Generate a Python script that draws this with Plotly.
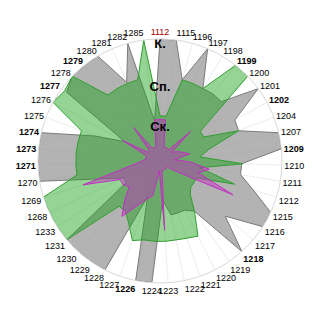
import plotly.graph_objects as go

categories = ["1112","1115","1196","1197","1198","1199","1200","1201","1202","1204",
              "1207","1209","1210","1211","1212","1215","1216","1217","1218","1219",
              "1220","1221","1222","1223","1224","1226","1227","1228","1229","1230",
              "1231","1233","1268","1269","1270","1271","1273","1274","1275","1276",
              "1277","1278","1279","1280","1281","1282","1285"]
bold_labels = ["1199","1202","1209","1218","1226","1271","1273","1274","1277","1279"]
red_labels = ["1112"]

gray_values = [100,100,69,100,69,70,70,100,70,69,
               100,100,67,67,80,100,100,70,100,50,
               45,45,45,32,100,100,31,100,100,100,
               100,33,33,49,100,100,100,100,57,33,
               95,100,100,100,70,100,33]
green_values = [37,37,69,69,69,100,100,41,41,69,
                41,33,68,33,64,33,33,33,37,50,
                69,67,66,66,66,66,69,57,50,50,
                100,100,100,100,69,69,69,69,69,100,
                97,100,69,69,69,69,100]
purple_values = [34,34,12,12,12,12,35,12,16,20,
                 25,12,25,41,33,66,16,8,8,8,
                 8,8,8,57,8,29,33,41,55,43,
                 33,36,36,66,25,16,12,12,12,35,
                 12,12,35,12,12,12,34]

level_names = ["Ск.", "Сп.", "К."]
level_values = [27, 60, 95]

def fmt(c):
    if c in red_labels:
        return '<span style="color:#9b0000">%s</span>' % c
    if c in bold_labels:
        return '<b>%s</b>' % c
    return c

def closed(v):
    return list(v) + [v[0]]

theta = closed(categories)
fig = go.Figure()
fig.add_trace(go.Scatterpolar(r=closed(gray_values), theta=theta, fill="toself",
                              mode="lines", fillcolor="rgba(150,150,150,0.72)",
                              line=dict(color="#7a7a7a", width=1)))
fig.add_trace(go.Scatterpolar(r=closed(green_values), theta=theta, fill="toself",
                              mode="lines", fillcolor="rgba(20,160,20,0.45)",
                              line=dict(color="#2f9e2f", width=1)))
fig.add_trace(go.Scatterpolar(r=closed(purple_values), theta=theta, fill="toself",
                              mode="lines", fillcolor="rgba(200,40,200,0.45)",
                              line=dict(color="#c030c0", width=1)))
fig.add_trace(go.Scatterpolar(r=level_values, theta=[categories[0]] * 3, mode="text",
                              text=level_names,
                              textfont=dict(family="Liberation Sans, Arial", size=13,
                                            color="black", weight="bold")))

fig.update_layout(
    width=320, height=320,
    margin=dict(l=38, r=38, t=39, b=37),
    paper_bgcolor="white",
    showlegend=False,
    polar=dict(
        bgcolor="white",
        angularaxis=dict(
            type="category", categoryarray=categories,
            direction="clockwise", rotation=90,
            tickmode="array", tickvals=categories,
            ticktext=[fmt(c) for c in categories],
            tickfont=dict(family="Liberation Sans, Arial", size=9, color="black"),
            showgrid=True, gridcolor="rgba(225,225,225,0.6)", gridwidth=1,
            showline=True, linecolor="#d8d8d8", linewidth=1,
            ticks="",
        ),
        radialaxis=dict(range=[0, 100], showticklabels=False, showline=False,
                        showgrid=False, ticks=""),
    ),
)
fig.write_html("out.html")
